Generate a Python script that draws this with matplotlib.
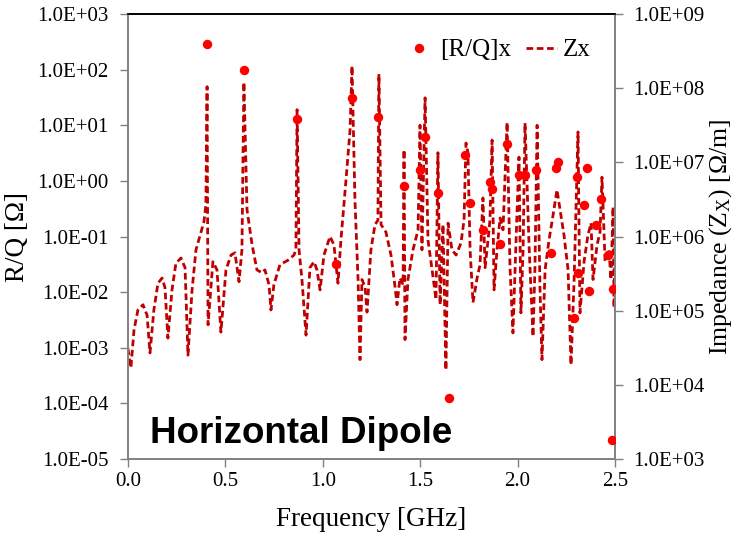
import numpy as np
import matplotlib
matplotlib.use("Agg")
import matplotlib.pyplot as plt

# --- DATA: R/Q markers (left axis) ---
rq_freq = [0.404, 0.597, 0.866, 1.068, 1.152, 1.285, 1.419, 1.499, 1.525, 1.590,
           1.646, 1.730, 1.755, 1.824, 1.858, 1.867, 1.910, 1.944, 2.005, 2.040,
           2.093, 2.172, 2.195, 2.206, 2.291, 2.303, 2.312, 2.343, 2.355, 2.367,
           2.402, 2.428, 2.466, 2.486, 2.491]
rq_vals = [285, 100, 12.9, 0.032, 31, 13.9, 0.82, 1.6, 6.05, 0.60,
           1.26e-4, 2.9, 0.40, 0.13, 0.96, 0.70, 0.073, 4.6, 1.27, 1.27,
           1.6, 0.050, 1.72, 2.15, 0.00345, 1.19, 0.0217, 0.37, 1.68, 0.0104,
           0.16, 0.48, 0.046, 2.24e-5, 0.0113]

# --- DATA: impedance Zx (right axis), log10 of Ohm/m ---
zx_freq = [0.000, 0.015, 0.031, 0.051, 0.077, 0.098, 0.113, 0.133, 0.154, 0.175,
           0.190, 0.205, 0.226, 0.246, 0.272, 0.293, 0.308, 0.329, 0.349, 0.375,
           0.390, 0.400, 0.406, 0.411, 0.436, 0.457, 0.477, 0.503, 0.529, 0.549,
           0.570, 0.585, 0.595, 0.611, 0.637, 0.662, 0.688, 0.703, 0.724, 0.734,
           0.749, 0.780, 0.821, 0.852, 0.862, 0.868, 0.878, 0.893, 0.914, 0.934,
           0.955, 0.970, 0.986, 1.006, 1.037, 1.057, 1.078, 1.093, 1.119, 1.140,
           1.150, 1.165, 1.181, 1.191, 1.201, 1.217, 1.227, 1.247, 1.268, 1.283,
           1.288, 1.299, 1.324, 1.350, 1.371, 1.381, 1.396, 1.412, 1.417, 1.422,
           1.437, 1.463, 1.489, 1.499, 1.509, 1.525, 1.540, 1.561, 1.581, 1.591,
           1.602, 1.617, 1.632, 1.643, 1.663, 1.684, 1.709, 1.725, 1.735, 1.745,
           1.756, 1.771, 1.792, 1.807, 1.822, 1.833, 1.848, 1.858, 1.869, 1.879,
           1.894, 1.910, 1.925, 1.946, 1.961, 1.976, 1.992, 2.007, 2.017, 2.028,
           2.038, 2.059, 2.079, 2.089, 2.100, 2.115, 2.125, 2.141, 2.161, 2.182,
           2.202, 2.218, 2.238, 2.259, 2.274, 2.290, 2.310, 2.320, 2.341, 2.361,
           2.377, 2.387, 2.408, 2.423, 2.433, 2.449, 2.469, 2.479, 2.490, 2.495,
           2.500]
zx_log = [4.49, 4.23, 4.74, 5.01, 5.08, 4.94, 4.43, 5.01, 5.37, 5.44,
          5.31, 4.63, 5.28, 5.64, 5.71, 5.58, 4.40, 5.28, 5.82, 6.06,
          6.20, 6.43, 8.02, 4.81, 5.66, 5.55, 4.71, 5.55, 5.75, 5.78,
          5.39, 5.82, 8.08, 6.36, 5.89, 5.55, 5.51, 5.55, 5.35, 5.01,
          5.35, 5.62, 5.68, 5.75, 5.82, 7.71, 5.82, 5.42, 4.67, 5.58,
          5.66, 5.55, 5.28, 5.75, 6.00, 5.89, 5.37, 5.95, 6.76, 7.44,
          8.30, 6.49, 5.42, 4.34, 5.42, 5.32, 4.98, 5.82, 6.16, 6.22,
          8.19, 6.16, 6.06, 5.75, 5.32, 5.08, 5.44, 5.35, 7.17, 4.61,
          5.42, 5.82, 6.09, 7.50, 5.82, 7.87, 5.95, 5.55, 5.15, 7.13,
          5.08, 6.16, 4.20, 6.18, 5.82, 5.75, 5.91, 6.22, 7.26, 7.13,
          5.82, 5.11, 5.44, 5.62, 6.52, 5.58, 5.95, 6.22, 7.30, 5.28,
          5.82, 6.25, 6.09, 7.54, 5.58, 4.70, 5.95, 7.07, 4.97, 5.82,
          7.53, 5.86, 4.65, 5.58, 7.50, 5.28, 4.34, 5.55, 5.95, 6.29,
          6.63, 6.36, 6.02, 5.55, 4.27, 5.42, 7.41, 4.97, 5.66, 6.02,
          6.18, 5.42, 5.89, 6.06, 6.80, 5.66, 5.82, 5.42, 6.40, 5.04,
          5.95]
zx_vals = 10 ** np.array(zx_log)

left_ticks = [1e-5, 1e-4, 1e-3, 1e-2, 1e-1, 1e0, 1e1, 1e2, 1e3]
right_ticks = [1e3, 1e4, 1e5, 1e6, 1e7, 1e8, 1e9]
x_ticks = [0.0, 0.5, 1.0, 1.5, 2.0, 2.5]

# --- STYLE ---
plt.rcParams['font.family'] = ['Liberation Serif', 'DejaVu Serif']
plt.rcParams['mathtext.fontset'] = 'custom'
plt.rcParams['mathtext.rm'] = 'Liberation Serif'
plt.rcParams['mathtext.it'] = 'Liberation Serif:italic'
GRAY = '#808080'

fig = plt.figure(figsize=(7.41, 5.34), dpi=100)
ax1 = fig.add_axes([0.1727, 0.1404, 0.6573, 0.8334])
ax2 = ax1.twinx()

dots, = ax1.plot(rq_freq, rq_vals, 'o', color='#FF0000', markersize=6.8,
                 markeredgewidth=0, zorder=3, label='[R/Q]x')
zline, = ax2.plot(zx_freq, zx_vals, '--', color='#C00000', linewidth=2.0,
                  dashes=(2.4, 1.3), label='Zx')
ax1.set_zorder(ax2.get_zorder() + 1)
ax1.patch.set_visible(False)

ax1.set_yscale('log')
ax2.set_yscale('log')
ax1.set_xlim(0, 2.5)
ax1.set_ylim(1e-5, 1e3)
ax2.set_ylim(1e3, 1e9)

ax1.set_xticks(x_ticks)
ax1.set_xticklabels(['%.1f' % t for t in x_ticks])
ax1.set_yticks(left_ticks)
ax1.set_yticklabels(['%.1E' % t for t in left_ticks])
ax2.set_yticks(right_ticks)
ax2.set_yticklabels(['%.1E' % t for t in right_ticks])
ax1.yaxis.set_minor_locator(matplotlib.ticker.NullLocator())
ax2.yaxis.set_minor_locator(matplotlib.ticker.NullLocator())

for ax in (ax1, ax2):
    ax.tick_params(direction='out', length=6, width=1, color=GRAY,
                   labelsize=15, pad=8)
    for side in ('left', 'right', 'bottom'):
        ax.spines[side].set_color(GRAY)
        ax.spines[side].set_linewidth(1.2)
    ax.spines['top'].set_color('black')
    ax.spines['top'].set_linewidth(1.2)
ax1.tick_params(axis='x', pad=3)
ax2.tick_params(axis='y', pad=7)

ax1.set_xlabel('Frequency [GHz]', fontsize=19.5, labelpad=12)
ax1.set_ylabel('R/Q [Ω]', fontsize=19.5, labelpad=5)
ax2.set_ylabel('Impedance (Z$_\\mathrm{X}$) [Ω/m]', fontsize=18.5, labelpad=2)

ax1.text(0.045, 0.036, 'Horizontal Dipole', transform=ax1.transAxes,
         fontsize=26.5, fontweight='bold', family='Liberation Sans', va='baseline')

ax1.legend(handles=[dots, zline], loc='upper right', ncol=2, frameon=False,
           fontsize=18, handlelength=1.25, columnspacing=0.6, handletextpad=0.2,
           borderaxespad=0.6)

fig.savefig('out.png', dpi=100)
